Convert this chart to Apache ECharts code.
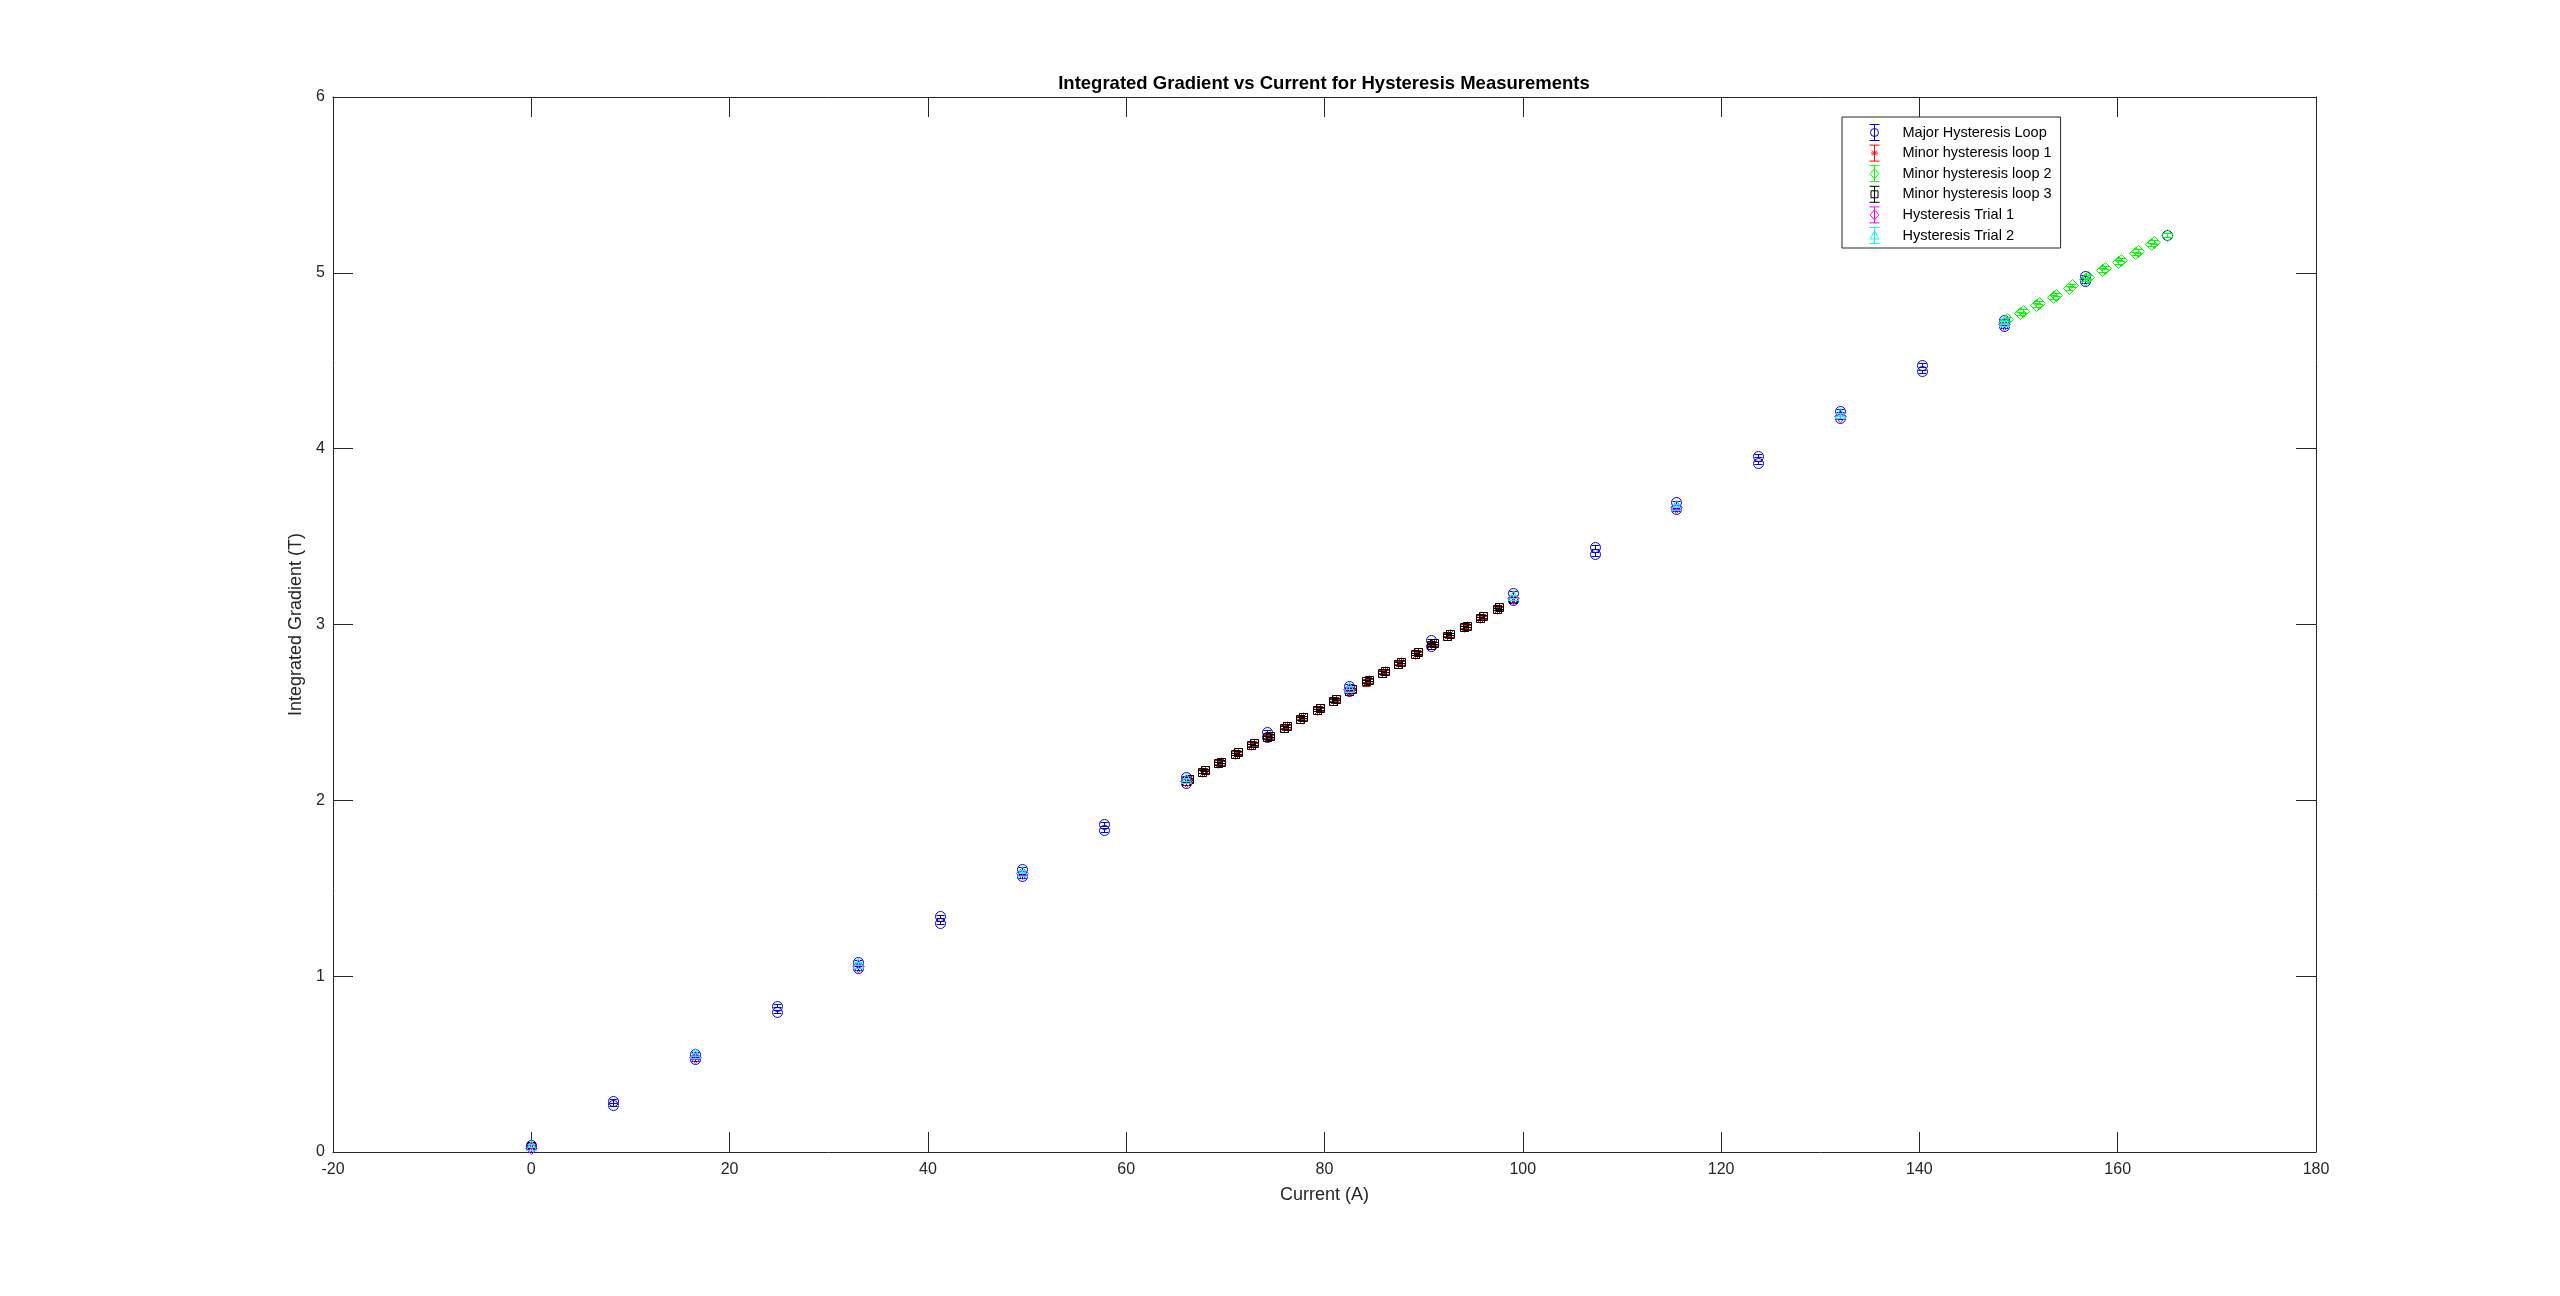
<!DOCTYPE html>
<html>
<head>
<meta charset="utf-8">
<script src="https://cdn.jsdelivr.net/npm/echarts@6/dist/echarts.min.js"></script>
<style>
html,body{margin:0;padding:0;background:#fff;}
#chart{width:2560px;height:1296px;}
</style>
</head>
<body>
<div id="chart"></div>
<script>
// ---------------- data ----------------
const xTicks = [-20, 0, 20, 40, 60, 80, 100, 120, 140, 160, 180];
const yTicks = [0, 1, 2, 3, 4, 5, 6];

const seriesNames = ['Major Hysteresis Loop', 'Minor hysteresis loop 1', 'Minor hysteresis loop 2',
  'Minor hysteresis loop 3', 'Hysteresis Trial 1', 'Hysteresis Trial 2'];

const majorCurrent = [0, 8.25, 16.5, 24.75, 33, 41.25, 49.5, 57.75, 66, 74.25, 82.5, 90.75, 99, 107.25, 115.5,
  123.75, 132, 140.25, 148.5, 156.75, 165, 156.75, 148.5, 140.25, 132, 123.75, 115.5, 107.25, 99, 90.75, 82.5,
  74.25, 66, 57.75, 49.5, 41.25, 33, 24.75, 16.5, 8.25, 0];
const majorGradient = [0.03, 0.27, 0.528, 0.798, 1.045, 1.305, 1.57, 1.83, 2.10, 2.36, 2.62, 2.88, 3.14, 3.40, 3.655,
  3.92, 4.176, 4.44, 4.695, 4.955, 5.215, 4.98, 4.73, 4.475, 4.216, 3.96, 3.695, 3.44, 3.18, 2.91, 2.65,
  2.39, 2.13, 1.865, 1.61, 1.34, 1.08, 0.832, 0.556, 0.29, 0.04];
const errMajor = 0.01;

const minor1Current = [0, 66, 67.65, 69.3, 70.95, 72.6, 74.25, 75.9, 77.55, 79.2, 80.85, 82.5, 84.15, 85.8, 87.45,
  89.1, 90.75, 92.4, 94.05, 95.7, 97.35, 99, 97.65, 96.0, 94.35, 92.7, 91.05, 89.4, 87.75, 86.1, 84.45, 82.8,
  81.15, 79.5, 77.85, 76.2, 74.55, 72.9, 71.25, 69.6, 67.95, 66.3];
const minor1Gradient = [0.03, 2.108, 2.158, 2.207, 2.260, 2.311, 2.355, 2.411, 2.461, 2.510, 2.563, 2.618, 2.672,
  2.724, 2.775, 2.829, 2.882, 2.933, 2.981, 3.033, 3.085, 3.142, 3.101, 3.049, 2.996, 2.949, 2.898, 2.845,
  2.791, 2.740, 2.689, 2.636, 2.579, 2.526, 2.477, 2.427, 2.370, 2.327, 2.276, 2.223, 2.175, 2.124];
const errMinor1 = 0.02;

const minor2Current = [148.5, 150.15, 151.8, 153.45, 155.1, 156.75, 158.4, 160.05, 161.7, 163.35, 165, 163.65,
  162.0, 160.35, 158.7, 157.05, 155.4, 153.75, 152.1, 150.45, 148.8];
const minor2Gradient = [4.722, 4.769, 4.817, 4.862, 4.915, 4.963, 5.016, 5.061, 5.111, 5.162, 5.215, 5.176,
  5.125, 5.075, 5.030, 4.977, 4.929, 4.876, 4.831, 4.783, 4.736];
const errMinor2 = 0.01;

const minor3Current = [0, 66, 67.65, 69.3, 70.95, 72.6, 74.25, 75.9, 77.55, 79.2, 80.85, 82.5, 84.15, 85.8, 87.45,
  89.1, 90.75, 92.4, 94.05, 95.7, 97.35, 99, 97.65, 96.0, 94.35, 92.7, 91.05, 89.4, 87.75, 86.1, 84.45, 82.8,
  81.15, 79.5, 77.85, 76.2, 74.55, 72.9, 71.25, 69.6, 67.95, 66.3];
const minor3Gradient = [0.035, 2.112, 2.162, 2.210, 2.263, 2.314, 2.358, 2.414, 2.464, 2.514, 2.566, 2.622, 2.676,
  2.727, 2.778, 2.832, 2.885, 2.936, 2.984, 3.036, 3.088, 3.146, 3.098, 3.046, 2.993, 2.946, 2.895, 2.842,
  2.788, 2.737, 2.686, 2.633, 2.576, 2.523, 2.474, 2.424, 2.367, 2.324, 2.273, 2.220, 2.172, 2.121];
const errMinor3 = 0.008;

const trialCurrent = [0, 16.5, 33, 49.5, 66, 82.5, 99, 115.5, 132, 148.5];
const trial1Gradient = [0.025, 0.54, 1.058, 1.585, 2.112, 2.632, 3.152, 3.668, 4.188, 4.708];
const trial2Gradient = [0.035, 0.555, 1.07, 1.595, 2.12, 2.64, 3.16, 3.675, 4.195, 4.718];
const errTrial1 = 0.012;
const errTrial2 = 0.008;

const seriesColors = ['#0000ff', '#ff0000', '#00ff00', '#000000', '#ff00ff', '#00ffff'];
const seriesMarkers = ['circle', 'asterisk', 'diamond', 'square', 'diamond', 'triangle'];

// ---------------- rendering ----------------
const FONT = "'Liberation Sans', Arial, Helvetica, sans-serif";
const AX = '#262626';

function px(v) { return Math.round(v) + 0.5; }

function markerEl(kind, cx, cy, color) {
  const st = { fill: 'none', stroke: color, lineWidth: 1 };
  if (kind === 'circle') return { type: 'circle', shape: { cx: cx, cy: cy, r: 5 }, style: st };
  if (kind === 'square') return { type: 'rect', shape: { x: cx - 4, y: cy - 4, width: 8, height: 8 }, style: st };
  if (kind === 'diamond') return { type: 'polygon', shape: { points: [[cx, cy - 6], [cx + 6, cy], [cx, cy + 6], [cx - 6, cy]] }, style: st };
  if (kind === 'triangle') return { type: 'polygon', shape: { points: [[cx, cy - 6], [cx + 5, cy + 4], [cx - 5, cy + 4]] }, style: st };
  // asterisk
  const r = 4, d = 3;
  return { type: 'path', shape: { pathData:
    'M' + cx + ' ' + (cy - r) + 'L' + cx + ' ' + (cy + r) +
    'M' + (cx - r) + ' ' + cy + 'L' + (cx + r) + ' ' + cy +
    'M' + (cx - d) + ' ' + (cy - d) + 'L' + (cx + d) + ' ' + (cy + d) +
    'M' + (cx - d) + ' ' + (cy + d) + 'L' + (cx + d) + ' ' + (cy - d) }, style: st };
}

function makeRender(kind, color) {
  return function (params, api) {
    const x = api.value(0), y = api.value(1), e = api.value(2);
    const c = api.coord([x, y]);
    const t = api.coord([x, y + e]);
    const b = api.coord([x, y - e]);
    const cx = px(c[0]), cy = px(c[1]), ty = px(t[1]), by = px(b[1]);
    const cap = 4;
    const ls = { stroke: color, lineWidth: 1 };
    return {
      type: 'group',
      children: [
        { type: 'line', shape: { x1: cx, y1: ty, x2: cx, y2: by }, style: ls },
        { type: 'line', shape: { x1: cx - cap, y1: ty, x2: cx + cap, y2: ty }, style: ls },
        { type: 'line', shape: { x1: cx - cap, y1: by, x2: cx + cap, y2: by }, style: ls },
        markerEl(kind, cx, cy, color)
      ]
    };
  };
}

function build(xs, ys, err) { return xs.map((x, i) => [x, ys[i], err]); }

const seriesData = [
  build(majorCurrent, majorGradient, errMajor),
  build(minor1Current, minor1Gradient, errMinor1),
  build(minor2Current, minor2Gradient, errMinor2),
  build(minor3Current, minor3Gradient, errMinor3),
  build(trialCurrent, trial1Gradient, errTrial1),
  build(trialCurrent, trial2Gradient, errTrial2)
];

const BAR = ' M5 0L5 16M0 0L10 0M0 16L10 16';
const legendIcons = {
  circle: 'path://M1 8A4 4 0 1 1 9 8A4 4 0 1 1 1 8Z' + BAR,
  asterisk: 'path://M5 4.5L5 11.5M1.5 8L8.5 8M2.5 5.5L7.5 10.5M2.5 10.5L7.5 5.5' + BAR,
  diamond: 'path://M5 3L9.5 8L5 13L0.5 8Z' + BAR,
  square: 'path://M1.5 4.5L8.5 4.5L8.5 11.5L1.5 11.5Z' + BAR,
  triangle: 'path://M5 3.5L9.5 11.5L0.5 11.5Z' + BAR
};

const series = seriesNames.map((name, i) => ({
  name: name,
  type: 'custom',
  coordinateSystem: 'cartesian2d',
  xAxisIndex: 0, yAxisIndex: 0,
  renderItem: makeRender(seriesMarkers[i], seriesColors[i]),
  encode: { x: 0, y: 1 },
  itemStyle: { color: seriesColors[i] },
  data: seriesData[i],
  silent: true,
  animation: false
}));

const chart = echarts.init(document.getElementById('chart'), null, { renderer: 'canvas' });

function axisCommon() {
  return {
    type: 'value',
    axisLine: { show: true, onZero: false, lineStyle: { color: AX, width: 1 } },
    axisTick: { show: true, inside: true, length: 20, lineStyle: { color: AX, width: 1 } },
    splitLine: { show: false },
    axisLabel: { fontFamily: FONT, fontSize: 16, color: AX }
  };
}

chart.setOption({
  backgroundColor: '#ffffff',
  animation: false,
  title: {
    text: 'Integrated Gradient vs Current for Hysteresis Measurements',
    left: 1319, top: 69, textAlign: 'center',
    textStyle: { fontFamily: FONT, fontSize: 18.5, fontWeight: 'bold', color: '#000' }
  },
  grid: { left: 333, right: 244, top: 97, bottom: 144, containLabel: false },
  legend: {
    orient: 'vertical',
    left: 1842, top: 117,
    padding: [5, 9, 2, 25],
    itemGap: -0.4,
    itemWidth: 10, itemHeight: 16,
    selectedMode: false,
    backgroundColor: '#fff',
    borderColor: AX, borderWidth: 1,
    textStyle: { fontFamily: FONT, fontSize: 14.5, color: '#000', padding: [0, 0, 0, 18], lineHeight: 16 },
    data: seriesNames.map((n, i) => ({
      name: n,
      icon: legendIcons[seriesMarkers[i]],
      itemStyle: { color: 'none', borderColor: seriesColors[i], borderWidth: 1 }
    }))
  },
  xAxis: [
    Object.assign(axisCommon(), {
      position: 'bottom', min: xTicks[0], max: xTicks[xTicks.length - 1], interval: 20,
      name: 'Current (A)', nameLocation: 'middle', nameGap: 34,
      nameTextStyle: { fontFamily: FONT, fontSize: 18, color: AX },
      axisLabel: { fontFamily: FONT, fontSize: 16, color: AX, margin: 10 }
    }),
    Object.assign(axisCommon(), {
      position: 'top', min: xTicks[0], max: xTicks[xTicks.length - 1], interval: 20,
      axisLabel: { show: false }
    })
  ],
  yAxis: [
    Object.assign(axisCommon(), {
      position: 'left', min: yTicks[0], max: yTicks[yTicks.length - 1], interval: 1,
      name: 'Integrated Gradient (T)', nameLocation: 'middle', nameGap: 13, nameRotate: 90,
      nameTextStyle: { fontFamily: FONT, fontSize: 18, color: AX },
      axisLabel: { fontFamily: FONT, fontSize: 16, color: AX, margin: 8, padding: [6, 0, 0, 0] }
    }),
    Object.assign(axisCommon(), {
      position: 'right', min: yTicks[0], max: yTicks[yTicks.length - 1], interval: 1,
      axisLabel: { show: false }
    })
  ],
  series: series
});
</script>
</body>
</html>
